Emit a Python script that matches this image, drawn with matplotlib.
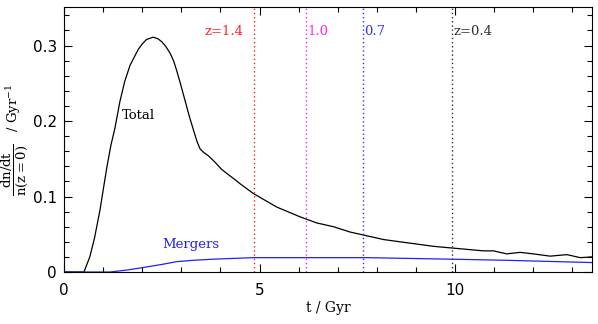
import matplotlib
matplotlib.use("Agg")
import matplotlib.pyplot as plt
from matplotlib.ticker import MultipleLocator

plt.rcParams["mathtext.fontset"] = "dejavuserif"

# Total rate
t_total = [0.0, 0.51, 0.66, 0.78, 0.92, 1.00, 1.10, 1.20, 1.30, 1.43, 1.55, 1.69,
           1.90, 2.00, 2.11, 2.28, 2.40, 2.50, 2.60, 2.71, 2.80, 2.88, 2.98, 3.09,
           3.20, 3.31, 3.40, 3.48, 3.58, 3.69, 3.85, 4.03, 4.15, 4.33, 4.55, 4.84,
           5.44, 6.04, 6.46, 6.89, 7.31, 7.74, 8.17, 8.59, 9.02, 9.45, 9.87, 10.30,
           10.72, 10.98, 11.32, 11.66, 12.00, 12.43, 12.86, 13.20, 13.50]
total = [0.0, 0.0, 0.020, 0.045, 0.082, 0.108, 0.140, 0.168, 0.190, 0.226, 0.252,
         0.274, 0.295, 0.302, 0.308, 0.311, 0.309, 0.305, 0.299, 0.290, 0.280,
         0.267, 0.249, 0.228, 0.207, 0.188, 0.173, 0.163, 0.158, 0.154, 0.146,
         0.136, 0.131, 0.124, 0.115, 0.104, 0.086, 0.073, 0.065, 0.060, 0.053,
         0.048, 0.043, 0.040, 0.037, 0.034, 0.032, 0.030, 0.028, 0.028, 0.024,
         0.026, 0.024, 0.021, 0.023, 0.019, 0.020]

# Mergers
t_merg = [0.0, 1.18, 1.60, 2.03, 2.50, 2.88, 3.30, 3.82, 4.84, 6.04, 7.74, 9.87,
          11.32, 13.50]
merg = [0.0, 0.0, 0.0025, 0.006, 0.010, 0.0137, 0.0155, 0.017, 0.019, 0.019,
        0.019, 0.017, 0.0155, 0.0125]

# redshift markers
z_times = [4.86, 6.19, 7.65, 9.92]
z_labels = ["z=1.4", "1.0", "0.7", "z=0.4"]
z_colors = ["#ff2020", "#ff20ff", "#3030ff", "#303030"]

fig = plt.figure(figsize=(5.98, 3.24), dpi=100)
ax = fig.add_axes([64/598, 52/324, 528/598, 265/324])

ax.plot(t_total, total, color="black", lw=0.9)
ax.plot(t_merg, merg, color="#2020ff", lw=0.9)

for t, lab, c in zip(z_times, z_labels, z_colors):
    ax.axvline(t, color=c, lw=1.0, linestyle=(0, (1, 2)))
    if lab == "z=1.4":
        ax.text(t - 0.28, 0.318, lab, color=c, ha="right", va="center",
                family="DejaVu Serif", fontsize=9.5)
    else:
        ax.text(t + 0.03, 0.318, lab, color=c, ha="left", va="center",
                family="DejaVu Serif", fontsize=9.5)

ax.text(1.48, 0.207, "Total", family="DejaVu Serif", fontsize=9.5, va="center")
ax.text(2.51, 0.037, "Mergers", family="DejaVu Serif", fontsize=9.5, va="center",
        color="#2020ff")

ax.set_xlim(0, 13.5)
ax.set_ylim(0, 0.351)
ax.xaxis.set_minor_locator(MultipleLocator(1))
ax.yaxis.set_minor_locator(MultipleLocator(0.02))
ax.set_xticks([0, 5, 10])
ax.set_xticklabels(["0", "5", "10"])
ax.set_yticks([0, 0.1, 0.2, 0.3])
ax.set_yticklabels(["0", "0.1", "0.2", "0.3"])
ax.tick_params(which="both", direction="in", top=True, right=True, labelsize=11,
               width=0.8)
ax.tick_params(which="major", length=6)
ax.tick_params(axis="x", which="major", pad=8)
ax.tick_params(axis="y", which="major", pad=5)
ax.tick_params(which="minor", length=3.5)
for s in ax.spines.values():
    s.set_linewidth(0.8)

ax.set_xlabel("t / Gyr", family="DejaVu Serif", fontsize=10, labelpad=2)
ax.set_ylabel(r"$\dfrac{\mathrm{dn/dt}}{\mathrm{n(z=0)}}$   / Gyr$^{-1}$",
              family="DejaVu Serif", fontsize=9.5, va="center")
ax.yaxis.set_label_coords(-0.093, 0.5)

fig.savefig("out.png", dpi=100)
